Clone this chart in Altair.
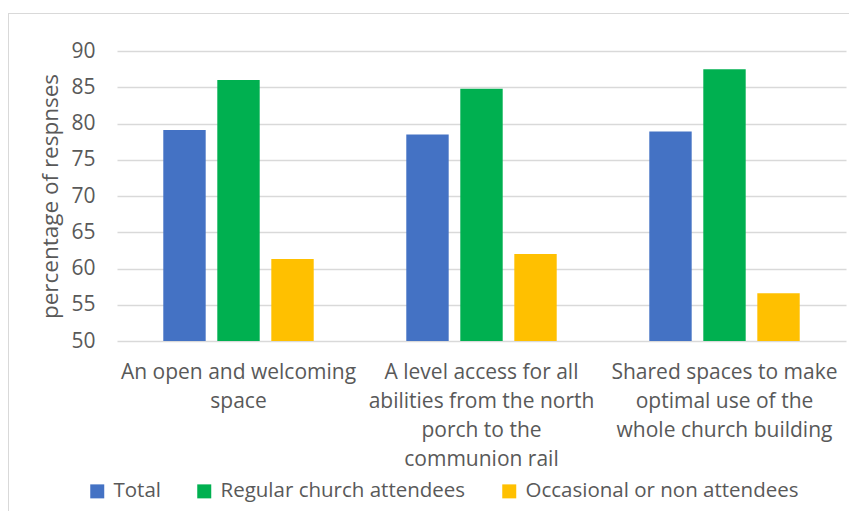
import altair as alt
import pandas as pd

# ---- data ----
category_lines = [
    ["An open and welcoming", "space"],
    ["A level access for all", "abilities from the north", "porch to the", "communion rail"],
    ["Shared spaces to make", "optimal use of the", "whole church building"],
]
categories = [" ".join(l) for l in category_lines]
series = ["Total", "Regular church attendees", "Occasional or non attendees"]
total = [79.1, 78.5, 78.9]
regular = [86.0, 84.8, 87.5]
occasional = [61.3, 62.0, 56.6]
y_ticks = [50, 55, 60, 65, 70, 75, 80, 85, 90]
colors = ["#4472C4", "#00B050", "#FFC000"]

rows = []
for s, vals in zip(series, [total, regular, occasional]):
    for c, v in zip(categories, vals):
        rows.append({"category": c, "series": s, "value": v})
df = pd.DataFrame(rows)

FONT = "Open Sans"
GRAY = "#595959"

# multi-line labels
parts = []
for c, lines in zip(categories, category_lines):
    arr = "[" + ",".join("'" + l + "'" for l in lines) + "]"
    parts.append(f"datum.label == '{c}' ? {arr} : ")
label_expr = "".join(parts) + "datum.label"

bars = alt.Chart(df).mark_bar().encode(
    x=alt.X(
        "category:N",
        sort=categories,
        scale=alt.Scale(paddingInner=0, paddingOuter=0),
        axis=alt.Axis(
            title=None, labelAngle=0, labelExpr=label_expr, domain=False, ticks=False,
            labelPadding=20, labelFontSize=21, labelColor=GRAY, labelFont=FONT,
            labelLineHeight=29, labelLimit=0, labelBaseline="top",
        ),
    ),
    xOffset=alt.XOffset("series:N", sort=series,
                        scale=alt.Scale(paddingInner=0.215, paddingOuter=0.857)),
    y=alt.Y(
        "value:Q",
        scale=alt.Scale(domain=[50, 90], zero=False, nice=False),
        axis=alt.Axis(
            values=y_ticks, title="percentage of respnses", domain=False, ticks=False,
            labelPadding=22, labelFontSize=21, labelColor=GRAY, labelFont=FONT,
            titleFontSize=22.5, titleFont=FONT, titleColor=GRAY, titleFontWeight="normal",
            titlePadding=8, gridColor="#d9d9d9", gridWidth=1.3,
        ),
    ),
    y2=alt.datum(50),
    color=alt.Color(
        "series:N",
        sort=series,
        scale=alt.Scale(domain=series, range=colors),
        legend=alt.Legend(
            title=None, orient="none", legendX=-30, legendY=430, direction="horizontal",
            symbolType="square", symbolSize=196, symbolStrokeWidth=0,
            labelFontSize=20.5, labelColor=GRAY, labelFont=FONT, labelOffset=6,
            columnPadding=33, labelLimit=0,
        ),
    ),
)

frame_df = pd.DataFrame({"a": [0]})
left_rule = alt.Chart(frame_df).mark_rule(color="#d9d9d9", strokeWidth=1).encode(
    x=alt.value(-108.5), y=alt.value(-37.5), y2=alt.value(470)
)
top_rule = alt.Chart(frame_df).mark_rule(color="#d9d9d9", strokeWidth=1).encode(
    x=alt.value(-109), x2=alt.value(740), y=alt.value(-37.5)
)

chart = alt.layer(left_rule, top_rule, bars).properties(
    width=729, height=290,
    autosize=alt.AutoSizeParams(type="none"),
    padding={"left": 109, "top": 43, "right": 3, "bottom": 170},
    background="white",
).configure_view(stroke=None)

chart.save("out.html", embed_options={"renderer": "svg", "actions": False})
